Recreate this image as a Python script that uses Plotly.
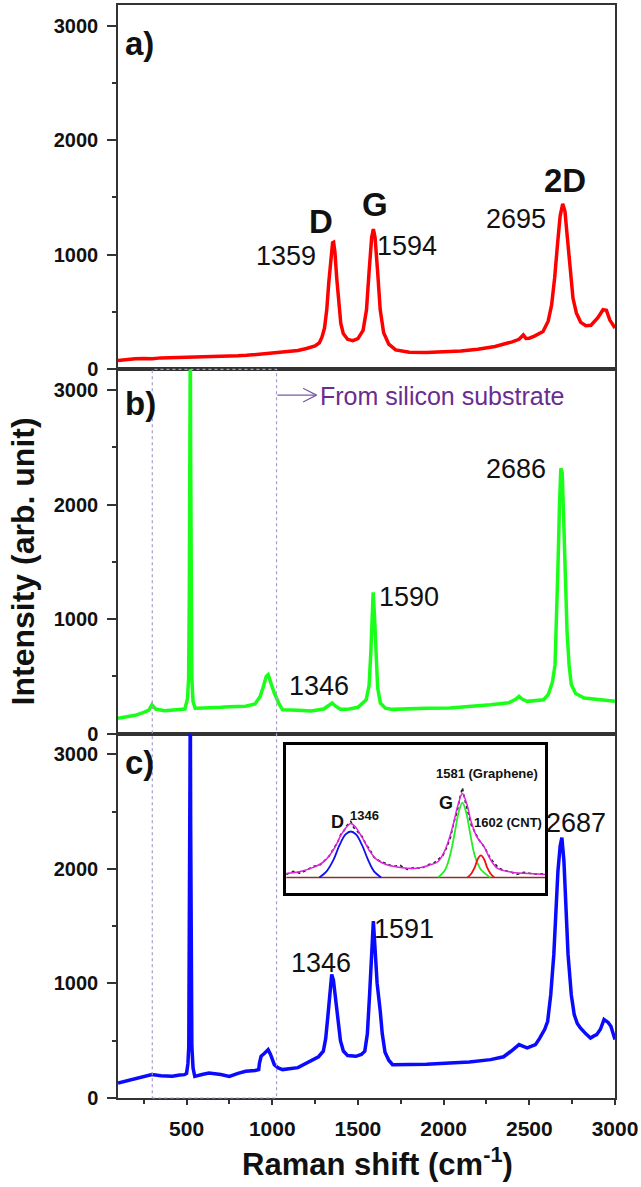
import plotly.graph_objects as go
from plotly.subplots import make_subplots

# ---------------- Panel a (red) ----------------
a_x = [100, 150, 200, 250, 300, 350, 400, 450, 500, 550, 600, 650, 700, 750, 800, 850, 900, 950,
       1000, 1050, 1100, 1150, 1200, 1250, 1275, 1290, 1305, 1318, 1330, 1342, 1352, 1358, 1366,
       1376, 1388, 1400, 1415, 1440, 1470, 1500, 1530, 1550, 1565, 1580, 1590, 1600, 1615, 1630,
       1650, 1680, 1720, 1800, 1900, 2000, 2100, 2200, 2300, 2400, 2440, 2465, 2480, 2500, 2530,
       2580, 2610, 2630, 2648, 2665, 2680, 2695, 2708, 2722, 2738, 2755, 2775, 2800, 2830, 2860,
       2900, 2930, 2950, 2970, 3000]
a_y = [78, 88, 92, 95, 92, 100, 102, 97, 100, 106, 104, 110, 112, 115, 118, 122, 128, 135,
       140, 148, 155, 165, 182, 205, 232, 280, 360, 520, 760, 1000, 1105, 1110, 1020,
       800, 560, 400, 310, 262, 250, 268, 340, 520, 850, 1150, 1225, 1150, 850, 520,
       320, 220, 170, 150, 148, 155, 160, 175, 200, 240, 262, 300, 270, 272, 290,
       330, 420, 560, 800, 1100, 1340, 1445, 1380, 1150, 850, 620, 490, 410, 380, 385,
       450, 520, 515, 430, 360]

# ---------------- Panel b (green) ----------------
b_x = [100, 150, 200, 250, 280, 298, 320, 370, 420, 470, 490, 505, 512, 516, 518, 520, 522, 524, 527, 531,
       538, 550, 600, 655, 700, 750, 800, 845, 900, 930, 950, 965, 976, 990, 1012, 1040, 1060,
       1150, 1226, 1300, 1330, 1350, 1370, 1400, 1450, 1500, 1548, 1565, 1575, 1582, 1589, 1596,
       1605, 1615, 1631, 1660, 1700, 1800, 1900, 2036, 2150, 2274, 2380, 2420, 2440, 2460, 2488,
       2540, 2583, 2610, 2635, 2650, 2660, 2668, 2676, 2684, 2692, 2700, 2710, 2720, 2732, 2745,
       2770, 2821, 2900, 2950, 3000]
b_y = [135, 150, 160, 185, 205, 253, 215, 200, 205, 210, 215, 300, 480, 1200, 2600, 3500, 3500, 2400, 1000, 480,
       280, 222, 225, 224, 230, 235, 238, 240, 260, 326, 420, 500, 515, 450, 355, 260, 209,
       205, 198, 215, 250, 267, 240, 212, 215, 230, 296, 420, 700, 1050, 1233, 1050,
       700, 400, 267, 222, 212, 218, 222, 224, 235, 253, 270, 300, 326, 300, 282,
       290, 296, 340, 450, 600, 1000, 1500, 2000, 2317, 2280, 1950, 1400, 900, 600, 430,
       350, 311, 300, 295, 282]

# ---------------- Panel c (blue) ----------------
c_x = [100, 150, 202, 250, 298, 350, 417, 460, 488, 500, 508, 513, 516, 518, 520, 522, 524, 527, 531, 538,
       548, 590, 631, 700, 750, 800, 845, 900, 921, 925, 935, 955, 976, 990, 1012, 1035, 1060,
       1150, 1226, 1270, 1298, 1312, 1325, 1337, 1347, 1357, 1370, 1383, 1398, 1415, 1440, 1488, 1520,
       1540, 1555, 1568, 1580, 1590, 1600, 1612, 1630, 1642, 1658, 1680, 1702, 1800, 1900, 2036,
       2150, 2274, 2350, 2393, 2420, 2440, 2465, 2488, 2510, 2536, 2560, 2590, 2607, 2625, 2643,
       2656, 2667, 2680, 2690, 2702, 2714, 2726, 2745, 2762, 2780, 2798, 2830, 2857, 2875, 2893,
       2915, 2936, 2960, 2976, 3000]
c_y = [131, 150, 175, 190, 204, 195, 189, 200, 204, 215, 300, 450, 1200, 2600, 3500, 3500, 2400, 1000, 450, 260,
       189, 205, 218, 205, 189, 215, 233, 240, 248, 300, 364, 390, 422, 380, 291, 262, 248,
       265, 320, 360, 408, 520, 720, 950, 1078, 1030, 850, 650, 500, 410, 370, 364, 380,
       408, 560, 900, 1350, 1544, 1300, 1000, 760, 560, 400, 330, 291, 290, 295, 306,
       315, 335, 360, 408, 440, 466, 450, 437, 450, 466, 520, 600, 670, 900, 1253,
       1650, 1981, 2200, 2272, 2068, 1700, 1253, 900, 728, 650, 612, 560, 524, 540, 553,
       600, 685, 660, 626, 510]

# ---------------- Inset (peak fitting) ----------------
ins_base_x = [1210, 1755]
ins_base_y = [0, 0]
ins_D_x = [1280, 1295, 1310, 1322, 1335, 1346, 1357, 1370, 1382, 1395, 1410]
ins_D_y = [0, 6, 18, 32, 43, 46, 43, 32, 18, 6, 0]
ins_G_x = [1530, 1545, 1555, 1565, 1573, 1581, 1589, 1597, 1607, 1620, 1640]
ins_G_y = [0, 8, 22, 45, 65, 75, 65, 45, 22, 8, 0]
ins_C_x = [1592, 1600, 1607, 1613, 1620, 1627, 1633, 1640, 1648]
ins_C_y = [0, 4, 10, 18, 22, 18, 10, 4, 0]
ins_fit_x = [1210, 1240, 1267, 1290, 1310, 1325, 1338, 1346, 1355, 1370, 1385, 1400, 1420, 1450,
             1480, 1510, 1530, 1545, 1560, 1572, 1581, 1590, 1600, 1612, 1625, 1640, 1655, 1688,
             1720, 1755]
ins_fit_y = [4, 6, 10, 16, 28, 42, 51, 54, 51, 40, 27, 18, 13, 10,
             9, 12, 16, 28, 50, 73, 84, 74, 55, 40, 32, 18, 9, 5,
             4, 3]
ins_dat_x = [1210, 1225, 1240, 1255, 1267, 1280, 1290, 1300, 1310, 1318, 1325, 1332, 1338, 1346,
             1352, 1360, 1370, 1378, 1385, 1395, 1405, 1420, 1435, 1450, 1465, 1480, 1495, 1510,
             1520, 1530, 1540, 1548, 1556, 1563, 1570, 1576, 1581, 1586, 1592, 1600, 1608, 1615,
             1622, 1630, 1640, 1648, 1656, 1668, 1680, 1695, 1710, 1725, 1740, 1755]
ins_dat_y = [3, 6, 4, 8, 11, 12, 17, 21, 29, 35, 43, 47, 52, 56,
             50, 46, 41, 33, 29, 20, 17, 14, 11, 12, 8, 10, 9, 13,
             14, 18, 22, 30, 40, 55, 66, 80, 90, 78, 66, 52, 45, 38,
             34, 28, 19, 14, 10, 7, 6, 3, 5, 4, 3, 4]

fig = make_subplots(rows=3, cols=1, shared_xaxes=True, vertical_spacing=0)

LW = 3.5
fig.add_trace(go.Scatter(x=a_x, y=a_y, mode="lines", line=dict(color="#ff0000", width=LW)), row=1, col=1)
fig.add_trace(go.Scatter(x=b_x, y=b_y, mode="lines", line=dict(color="#1aff1a", width=LW)), row=2, col=1)
fig.add_trace(go.Scatter(x=c_x, y=c_y, mode="lines", line=dict(color="#0a0aff", width=LW)), row=3, col=1)

# inset traces
inset = dict(xaxis="x4", yaxis="y4")
fig.add_trace(go.Scatter(x=ins_base_x, y=ins_base_y, mode="lines", line=dict(color="#8b3030", width=1.5), **inset))
fig.add_trace(go.Scatter(x=ins_dat_x, y=ins_dat_y, mode="lines", line=dict(color="#222222", width=1.6, dash="dot"), **inset))
fig.add_trace(go.Scatter(x=ins_fit_x, y=ins_fit_y, mode="lines", line=dict(color="#e020e0", width=1.5, shape="spline"), **inset))
fig.add_trace(go.Scatter(x=ins_D_x, y=ins_D_y, mode="lines", line=dict(color="#1010ee", width=1.8, shape="spline"), **inset))
fig.add_trace(go.Scatter(x=ins_G_x, y=ins_G_y, mode="lines", line=dict(color="#22ee22", width=1.8, shape="spline"), **inset))
fig.add_trace(go.Scatter(x=ins_C_x, y=ins_C_y, mode="lines", line=dict(color="#ee1010", width=1.8, shape="spline"), **inset))

FONT = "Arial"
axis_line = dict(showline=True, mirror=True, linecolor="#333333", linewidth=1.5,
                 showgrid=False, zeroline=False)

for r in (1, 2, 3):
    fig.update_yaxes(range=[0, 3180], tickvals=[0, 1000, 2000, 3000], ticks="outside", ticklen=9,
                     tickwidth=1.5, tickcolor="#333333", ticklabelstandoff=5,
                     minor=dict(tickvals=[500, 1500, 2500], ticks="outside", ticklen=4, tickcolor="#333333"),
                     tickfont=dict(family=FONT, size=20, color="#111111", weight="bold"),
                     row=r, col=1, **axis_line)
    fig.update_xaxes(range=[100, 3000], row=r, col=1, **axis_line)

fig.update_xaxes(ticks="", showticklabels=False, row=1, col=1)
fig.update_xaxes(ticks="", showticklabels=False, row=2, col=1)
fig.update_xaxes(tickvals=[500, 1000, 1500, 2000, 2500, 3000], ticks="outside", ticklen=5, tickwidth=1.5,
                 tickcolor="#333333", showticklabels=True, ticklabelstandoff=6,
                 minor=dict(tickvals=[250, 750, 1250, 1750, 2250, 2750], ticks="outside", ticklen=4,
                            tickcolor="#333333"),
                 tickfont=dict(family=FONT, size=21, color="#111111", weight="bold"),
                 row=3, col=1)

fig.update_layout(
    xaxis4=dict(domain=[0.3384, 0.8592], anchor="y4", range=[1210, 1755], showline=True, mirror=True,
                linecolor="#000000", linewidth=2.5, showgrid=False, zeroline=False, ticks="",
                showticklabels=False),
    yaxis4=dict(domain=[0.1872, 0.3233], anchor="x4", range=[-16, 133], showline=True, mirror=True,
                linecolor="#000000", linewidth=2.5, showgrid=False, zeroline=False, ticks="",
                showticklabels=False),
)

anns = []
def txt(text, x, y, ref, size, bold=False, color="#111111", xanchor="center"):
    anns.append(dict(text=text, x=x, y=y, xref="x" + ref, yref="y" + ref, showarrow=False,
                     xanchor=xanchor, yanchor="middle",
                     font=dict(family=FONT, size=size, color=color, weight="bold" if bold else "normal")))

# panel a
txt("a)", 128, 2843, "", 33, True, xanchor="left")
txt("D", 1285, 1290, "", 33, True)
txt("G", 1600, 1440, "", 33, True)
txt("2D", 2708, 1645, "", 33, True)
txt("1359", 1078, 990, "", 27)
txt("1594", 1786, 1075, "", 27)
txt("2695", 2422, 1315, "", 27)
# panel b
txt("b)", 128, 2886, "2", 33, True, xanchor="left")
txt("From silicon substrate", 1268, 2947, "2", 25, color="#6a2c91", xanchor="left")
txt("2686", 2422, 2311, "2", 27)
txt("1590", 1798, 1192, "2", 27)
txt("1346", 1273, 413, "2", 27)
# panel c
txt("c)", 128, 2928, "3", 33, True, xanchor="left")
txt("1346", 1286, 1174, "3", 27)
txt("1591", 1768, 1471, "3", 27)
txt("2687", 2775, 2403, "3", 27)
# inset labels
txt("D", 1317, 56, "4", 18, True)
txt("1346", 1374, 62, "4", 13, True)
txt("G", 1547, 75, "4", 18, True)
txt("1581 (Graphene)", 1633, 104, "4", 13, True)
txt("1602 (CNT)", 1677, 55, "4", 13, True)

# axis titles
anns.append(dict(text="Raman shift (cm<sup>-1</sup>)", x=0.523, y=-0.059, xref="paper", yref="paper",
                 showarrow=False, xanchor="center", yanchor="middle",
                 font=dict(family=FONT, size=31, color="#111111", weight="bold")))
anns.append(dict(text="Intensity (arb. unit)", x=-0.191, y=0.491, xref="paper", yref="paper",
                 showarrow=False, textangle=-90, xanchor="center", yanchor="middle",
                 font=dict(family=FONT, size=32, color="#111111", weight="bold")))

shapes = [
    # dotted region marking silicon substrate peaks (spans panels b and c)
    dict(type="rect", xref="x3", yref="paper", x0=300, x1=1025, y0=0, y1=2/3,
         line=dict(color="#a89cc8", width=1.2, dash="dot"), layer="above"),
    # arrow to the label
    dict(type="line", xref="x2", yref="y2", x0=1030, x1=1258, y0=2955, y1=2955,
         line=dict(color="#7a5aa8", width=1.2)),
    dict(type="line", xref="x2", yref="y2", x0=1180, x1=1258, y0=3015, y1=2955,
         line=dict(color="#7a5aa8", width=1.2)),
    dict(type="line", xref="x2", yref="y2", x0=1180, x1=1258, y0=2895, y1=2955,
         line=dict(color="#7a5aa8", width=1.2)),
]

fig.update_layout(
    width=641, height=1187,
    margin=dict(l=118, r=26, t=3, b=89),
    paper_bgcolor="white", plot_bgcolor="white",
    showlegend=False,
    annotations=anns, shapes=shapes,
)

fig.write_html("out.html", config={"displayModeBar": False},
               post_script="document.body.style.margin='0';document.body.style.padding='0';")
